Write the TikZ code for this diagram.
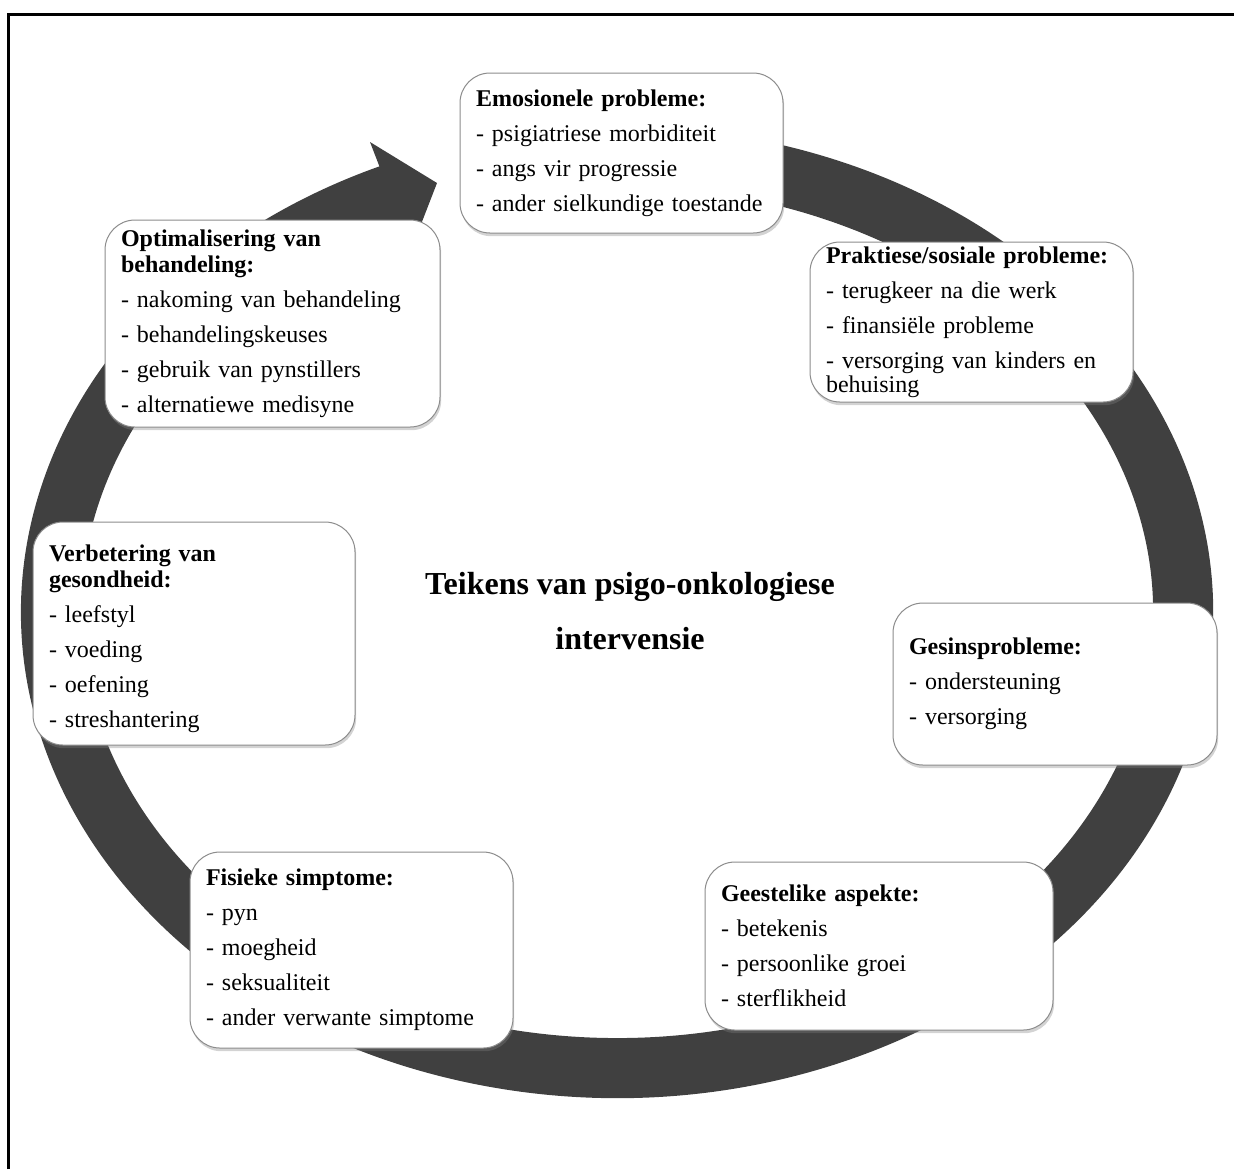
\documentclass[tikz,border=0pt]{standalone}
\usepackage{fontspec}
\setmainfont{Liberation Serif}
\usetikzlibrary{shadows}
\definecolor{ringgrey}{HTML}{404040}
\definecolor{boxline}{HTML}{8C8C8C}

\begin{document}
\begin{tikzpicture}[x=0.5pt,y=-0.5pt,
  infobox/.style 2 args={draw=boxline, line width=0.5pt, fill=white,
    rounded corners=15pt,
    drop shadow={opacity=0.35, shadow xshift=0.6pt, shadow yshift=-1.6pt},
    inner xsep=8pt, inner ysep=0pt, align=left, anchor=center,
    text width=#1, minimum height=#2,
    font=\fontsize{12pt}{13pt}\selectfont},
  heading/.style={align=center, anchor=center,
    font=\fontsize{16pt}{27.5pt}\selectfont\bfseries}]

\useasboundingbox (0,0) rectangle (1234,1169);

% circular arrow running clockwise round the picture
\fill[ringgrey] (771.3,142.6)
  arc[start angle=-75, end angle=246.5, x radius=596, y radius=486]
  -- (370,142) -- (437,183) -- (413,245) -- (403.3,221.3)
  arc[start angle=246.5, end angle=-75, x radius=536, y radius=426]
  -- cycle;

% the seven target areas
\node[infobox={145.5pt}{80pt}] (emo) at (621.5,153)
  {\textbf{Emosionele probleme:}\\[4.5pt]
   - psigiatriese morbiditeit\\[4.5pt]
   - angs vir progressie\\[4.5pt]
   - ander sielkundige toestande};

\node[infobox={145.5pt}{80pt}] (prak) at (971.5,322)
  {\textbf{Praktiese/sosiale probleme:}\\[4.5pt]
   - terugkeer na die werk\\[4.5pt]
   - finansiële probleme\\[4.5pt]
   - versorging van kinders en\\[-1pt]
   behuising};

\node[infobox={146pt}{81pt}] (gesin) at (1055,684)
  {\textbf{Gesinsprobleme:}\\[4.5pt]
   - ondersteuning\\[4.5pt]
   - versorging};

\node[infobox={158pt}{84pt}] (gees) at (879,946)
  {\textbf{Geestelike aspekte:}\\[4.5pt]
   - betekenis\\[4.5pt]
   - persoonlike groei\\[4.5pt]
   - sterflikheid};

\node[infobox={145.5pt}{98pt}] (fis) at (351.5,950)
  {\textbf{Fisieke simptome:}\\[4.5pt]
   - pyn\\[4.5pt]
   - moegheid\\[4.5pt]
   - seksualiteit\\[4.5pt]
   - ander verwante simptome};

% the taller first-line strut sets this block a little lower in its box
\node[infobox={145pt}{111.5pt}] (verb) at (194,633.5)
  {\rule{0pt}{14pt}\textbf{Verbetering van}\\
   \textbf{gesondheid:}\\[4.5pt]
   - leefstyl\\[4.5pt]
   - voeding\\[4.5pt]
   - oefening\\[4.5pt]
   - streshantering};

\node[infobox={151.5pt}{103.5pt}] (opt) at (272.5,323.5)
  {\textbf{Optimalisering van}\\
   \textbf{behandeling:}\\[4.5pt]
   - nakoming van behandeling\\[4.5pt]
   - behandelingskeuses\\[4.5pt]
   - gebruik van pynstillers\\[4.5pt]
   - alternatiewe medisyne};

% central heading
\node[heading] (title) at (630,611)
  {Teikens van psigo-onkologiese\\intervensie};

% outer frame lines
\draw[line width=1.5pt] (8.5,1169) -- (8.5,14.5) -- (1234,14.5);

\end{tikzpicture}
\end{document}
